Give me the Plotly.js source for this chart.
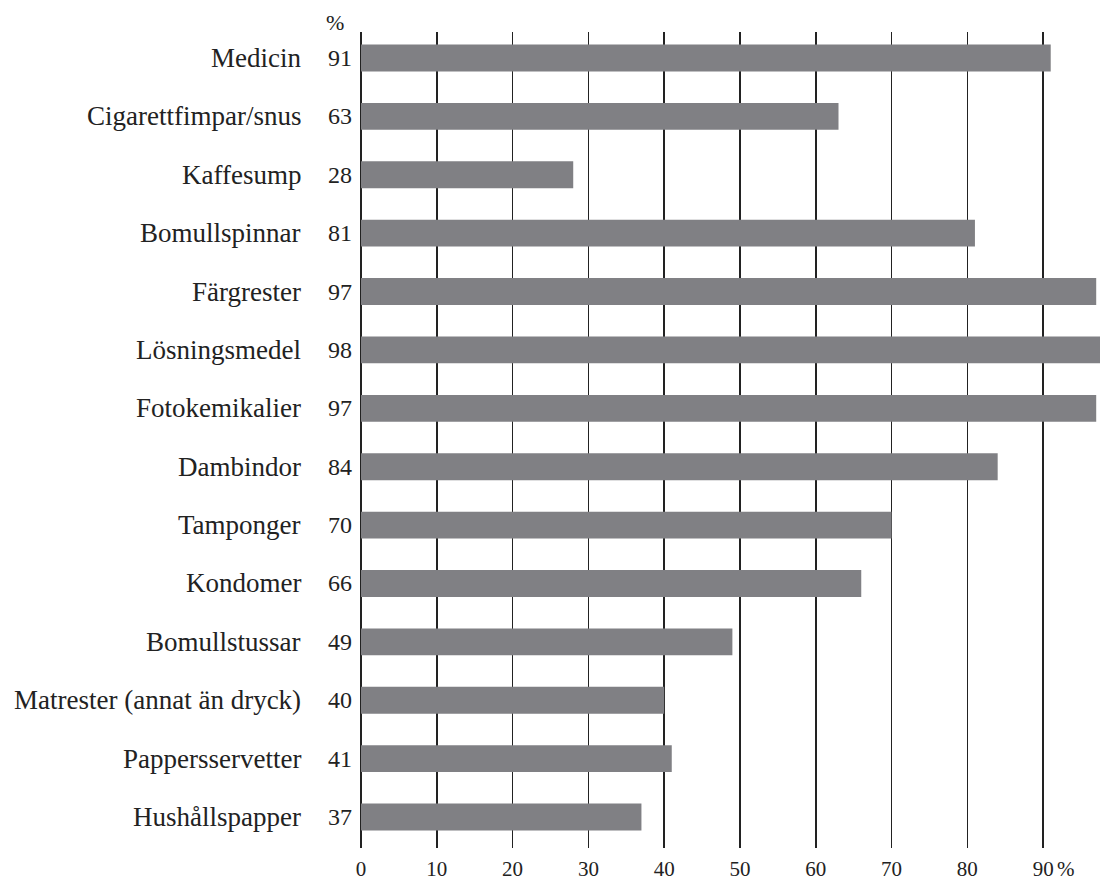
<!DOCTYPE html>
<html>
<head>
<meta charset="utf-8">
<script src="https://cdn.plot.ly/plotly-3.0.1.min.js"></script>
<style>html,body{margin:0;padding:0;background:#fff;}#chart{width:1100px;height:880px;}</style>
</head>
<body>
<div id="chart"></div>
<script>
const categories = ["Medicin","Cigarettfimpar/snus","Kaffesump","Bomullspinnar","Färgrester","Lösningsmedel","Fotokemikalier","Dambindor","Tamponger","Kondomer","Bomullstussar","Matrester (annat än dryck)","Pappersservetter","Hushållspapper"];
const values = [91,63,28,81,97,98,97,84,70,66,49,40,41,37];
const tickVals = [0,10,20,30,40,50,60,70,80,90];
const tickLabels = ["0","10","20","30","40","50","60","70","80","90"];

const FONT = "'Liberation Serif', 'Times New Roman', serif";
const annotations = [];
categories.forEach((c, i) => {
  annotations.push({x:0, y:c, xref:'x', yref:'y', text:c, showarrow:false, xanchor:'right', yanchor:'middle', xshift:-58, font:{family:FONT, size:27, color:'#222'}});
  annotations.push({x:0, y:c, xref:'x', yref:'y', text:String(values[i]), showarrow:false, xanchor:'right', yanchor:'middle', xshift:-7, font:{family:FONT, size:24, color:'#222'}});
});
annotations.push({x:(335-361)/739, y:1+(32-22)/816, xref:'paper', yref:'paper', text:'%', showarrow:false, xanchor:'center', yanchor:'middle', font:{family:FONT, size:22, color:'#222'}});
annotations.push({x:90, y:-(869-848)/816, xref:'x', yref:'paper', text:'%', showarrow:false, xanchor:'center', yanchor:'middle', xshift:23, font:{family:FONT, size:21, color:'#222'}});

const trace = {
  type:'bar', orientation:'h', x:values, y:categories,
  width:0.46,
  marker:{color:'#808084', line:{width:0}},
  hoverinfo:'none'
};
const layout = {
  width:1100, height:880,
  margin:{l:361, r:0, t:32, b:32},
  paper_bgcolor:'#fff', plot_bgcolor:'#fff',
  showlegend:false,
  font:{family:FONT, color:'#222'},
  xaxis:{range:[0,97.5], tickvals:tickVals, ticktext:tickLabels, showgrid:true, gridcolor:'#222', gridwidth:1.5,
         zeroline:true, zerolinecolor:'#222', zerolinewidth:1.5, showline:false, ticks:'', ticklabelstandoff:6,
         tickfont:{family:FONT, size:21, color:'#222'}, fixedrange:true},
  yaxis:{type:'category', categoryorder:'array', categoryarray:categories, range:[13.53,-0.445],
         showticklabels:false, showgrid:false, zeroline:false, showline:false, ticks:'', fixedrange:true},
  annotations:annotations,
  bargap:0.54
};
Plotly.newPlot('chart', [trace], layout, {displayModeBar:false, staticPlot:true});
</script>
</body>
</html>
